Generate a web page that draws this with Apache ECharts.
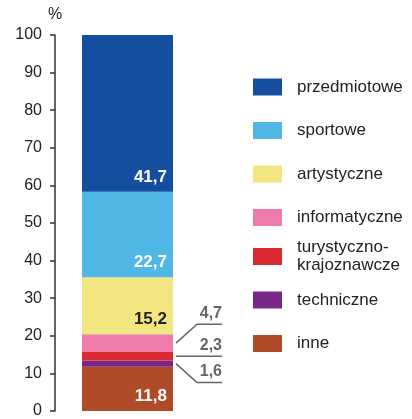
<!DOCTYPE html>
<html>
<head>
<meta charset="utf-8">
<script src="https://cdn.jsdelivr.net/npm/echarts@6/dist/echarts.min.js"></script>
<style>
  html, body { margin: 0; padding: 0; background: #fff; }
  #main { width: 412px; height: 419px; }
</style>
</head>
<body>
<div id="main"></div>
<script>
// dane: kategorie od dołu słupka do góry
const categories = ['inne', 'techniczne', 'turystyczno-\nkrajoznawcze', 'informatyczne', 'artystyczne', 'sportowe', 'przedmiotowe']
const shares = [11.8, 1.6, 2.3, 4.7, 15.2, 22.7, 41.7]
const yTicks = [0, 10, 20, 30, 40, 50, 60, 70, 80, 90, 100]
const barCategory = ['ogółem']

// wygląd
const colors = ['#b04b29', '#79288a', '#da2a2f', '#ee7bab', '#f2e680', '#4fb8e6', '#144e9f']
const darkLabel = { artystyczne: true }
const FONT = 'Liberation Sans, Arial, Helvetica, sans-serif'
const BAR_W = 91

const fmt = v => v.toFixed(1).replace('.', ',')

// środki segmentów (skumulowane)
const mids = []
let acc = 0
shares.forEach(v => { mids.push(acc + v / 2); acc += v })

// małe segmenty opisane z boku
const smallIdx = shares.map((v, i) => (v < 10 ? i : -1)).filter(i => i >= 0)
const calloutData = smallIdx.map((i, k) => [0, mids[i], shares[i], k])

const chart = echarts.init(document.getElementById('main'))

const barSeries = categories.map((name, i) => ({
  name: name,
  type: 'bar',
  stack: 'total',
  barWidth: BAR_W,
  data: [shares[i]],
  itemStyle: { color: colors[i] },
  label: {
    show: shares[i] >= 10,
    position: 'insideBottomRight',
    distance: 6,
    color: darkLabel[name] ? '#222' : '#fff',
    fontFamily: FONT,
    fontSize: 17,
    fontWeight: 'bold',
    formatter: p => fmt(p.value)
  },
  emphasis: { disabled: true }
}))

// linie odniesienia dla małych wartości
const calloutSeries = {
  type: 'custom',
  coordinateSystem: 'cartesian2d',
  clip: false,
  z: 5,
  silent: true,
  data: calloutData,
  renderItem: (params, api) => {
    const p = api.coord([api.value(0), api.value(1)])
    const k = api.value(3)
    const bend = (k - (smallIdx.length - 1) / 2) * -19
    const x0 = p[0] + BAR_W / 2 + 3
    const y0 = p[1]
    const yb = y0 + bend
    return {
      type: 'group',
      children: [
        {
          type: 'polyline',
          shape: { points: [[x0, y0], [x0 + 21, yb], [x0 + 46, yb]] },
          style: { stroke: '#666', lineWidth: 1.5, fill: null }
        },
        {
          type: 'text',
          x: x0 + 46,
          y: yb - 3,
          style: {
            text: fmt(api.value(2)),
            align: 'right',
            verticalAlign: 'bottom',
            fill: '#666',
            font: 'bold 16px ' + FONT
          }
        }
      ]
    }
  }
}

const legendNames = categories.slice().reverse()
const legendBase = {
  orient: 'vertical',
  left: 253,
  padding: 0,
  itemWidth: 29,
  itemHeight: 17,
  itemGap: 25.5,
  icon: 'rect',
  selectedMode: false,
  textStyle: { fontFamily: FONT, fontSize: 17, color: '#222', lineHeight: 18, padding: [0, 0, 0, 10] }
}

chart.setOption({
  animation: false,
  textStyle: { fontFamily: FONT },
  grid: { left: 55, right: 212, top: 35, bottom: 7 },
  legend: [
    Object.assign({}, legendBase, { top: 78, data: legendNames.slice(0, 4) }),
    Object.assign({}, legendBase, { top: 238.5, data: legendNames.slice(4, 5) }),
    Object.assign({}, legendBase, { top: 291, data: legendNames.slice(5) })
  ],
  xAxis: {
    type: 'category',
    data: barCategory,
    show: false
  },
  yAxis: {
    type: 'value',
    min: yTicks[0],
    max: yTicks[yTicks.length - 1],
    interval: yTicks[1] - yTicks[0],
    name: '%',
    nameLocation: 'end',
    nameGap: 12,
    nameTextStyle: { fontFamily: FONT, fontSize: 16, color: '#222', align: 'center' },
    axisLine: { show: true, lineStyle: { color: '#333', width: 1.5 } },
    axisTick: { show: true, inside: false, length: 5, lineStyle: { color: '#333', width: 1.5 } },
    axisLabel: { fontFamily: FONT, fontSize: 16, color: '#222', margin: 13 },
    splitLine: { show: false }
  },
  series: barSeries.concat([calloutSeries])
})
</script>
</body>
</html>
